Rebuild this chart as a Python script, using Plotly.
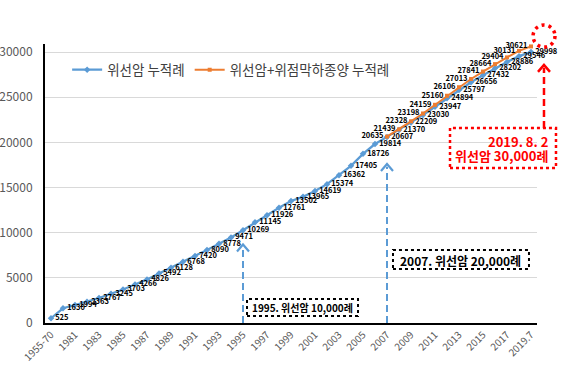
import plotly.graph_objects as go

categories = ["1955-70", "1971-80"] + [str(y) for y in range(1981, 2019)] + ["2019.7"]

gastric_cancer = [525, 1630, 1994, 2363, 2767, 3245, 3703, 4266, 4826, 5492, 6128,
                  6768, 7420, 8090, 8778, 9471, 10269, 11145, 11926, 12761, 13502,
                  13965, 14619, 15374, 16362, 17405, 18726, 19814, 20607, 21370,
                  22209, 23030, 23947, 24894, 25797, 26656, 27432, 28202, 28886,
                  29546, 29998]

gastric_plus_smt = [None] * 28 + [20635, 21439, 22328, 23198, 24159, 25160, 26106,
                                  27013, 27841, 28664, 29404, 30131, 30621]

name_blue = "위선암 누적례"
name_orange = "위선암+위점막하종양 누적례"

BLUE = "#5B9BD5"
ORANGE = "#ED7D31"
RED = "#FF0000"
FONT = "Noto Sans CJK KR"

fig = go.Figure()
fig.add_trace(go.Scatter(
    x=categories, y=gastric_cancer, name=name_blue,
    mode="lines+markers+text",
    line=dict(color=BLUE, width=2.25),
    marker=dict(symbol="diamond", size=5, color=BLUE),
    text=[str(v) for v in gastric_cancer],
    textposition="middle right",
    textfont=dict(size=7.5, color="#000000", family=FONT, weight="bold"),
    cliponaxis=False,
))
fig.add_trace(go.Scatter(
    x=categories, y=gastric_plus_smt, name=name_orange,
    mode="lines+markers+text",
    line=dict(color=ORANGE, width=2),
    marker=dict(symbol="square", size=4, color=ORANGE),
    text=[("" if v is None else str(v)) for v in gastric_plus_smt],
    textposition="middle left",
    textfont=dict(size=7.5, color="#000000", family=FONT, weight="bold"),
    cliponaxis=False,
))

i1995 = categories.index("1995")
i2007 = categories.index("2007")

CHEVRON = "M-6,-7 L0,0 L6,-7"

def chevron(xref, yref, x, y, color, width):
    return dict(type="path", xref=xref, yref=yref, xsizemode="pixel", ysizemode="pixel",
                xanchor=x, yanchor=y, path=CHEVRON,
                line=dict(color=color, width=width))

shapes = [
    # blue dashed arrows
    dict(type="line", xref="x", yref="y", x0=i1995, x1=i1995, y0=0, y1=8400,
         line=dict(color=BLUE, width=2, dash="7px,4px")),
    chevron("x", "y", i1995, 8700, BLUE, 2.2),
    dict(type="line", xref="x", yref="y", x0=i2007, x1=i2007, y0=0, y1=17300,
         line=dict(color=BLUE, width=2, dash="7px,4px")),
    chevron("x", "y", i2007, 17600, BLUE, 2.2),
    # dotted boxes
    dict(type="rect", xref="paper", yref="paper", x0=0.4106, x1=0.6362, y0=0.0251, y1=0.086,
         line=dict(color="#000000", width=2, dash="dot")),
    dict(type="rect", xref="paper", yref="paper", x0=0.7073, x1=0.9837, y0=0.1935, y1=0.2616,
         line=dict(color="#000000", width=2, dash="dot")),
    dict(type="rect", xref="paper", yref="paper", x0=0.8232, x1=1.0386, y0=0.5556, y1=0.6989,
         line=dict(color=RED, width=2.5, dash="dot")),
    # red dashed arrow
    dict(type="line", xref="paper", yref="paper", x0=1.0142, x1=1.0142, y0=0.6989, y1=0.915,
         line=dict(color=RED, width=2.5, dash="7px,4px")),
    chevron("paper", "paper", 1.0142, 0.925, RED, 2.5),
    # red dotted circle
    dict(type="circle", xref="paper", yref="paper", x0=0.992, x1=1.0366, y0=0.989, y1=1.068,
         line=dict(color=RED, width=3.5, dash="3px,4px")),
]

annotations = [
    dict(x=0.5234, y=0.0573, xref="paper", yref="paper", showarrow=False,
         xanchor="center", yanchor="middle",
         text="<b>1995. 위선암 10,000례</b>", font=dict(size=10, color="#000000", family=FONT)),
    dict(x=0.8455, y=0.2258, xref="paper", yref="paper", showarrow=False,
         xanchor="center", yanchor="middle",
         text="<b>2007. 위선암 20,000례</b>", font=dict(size=12, color="#000000", family=FONT)),
    dict(x=1.0264, y=0.6523, xref="paper", yref="paper", showarrow=False,
         xanchor="right", yanchor="middle",
         text="<b>2019. 8. 2</b>", font=dict(size=13, color=RED, family=FONT)),
    dict(x=1.0264, y=0.5986, xref="paper", yref="paper", showarrow=False,
         xanchor="right", yanchor="middle",
         text="<b>위선암 30,000례</b>", font=dict(size=13, color=RED, family=FONT)),
]

fig.update_layout(
    width=567, height=377,
    margin=dict(l=45, r=30, t=44, b=54, autoexpand=False),
    paper_bgcolor="white", plot_bgcolor="white",
    font=dict(family=FONT, color="#595959"),
    showlegend=True,
    legend=dict(orientation="h", x=0.045, y=0.907, xanchor="left", yanchor="middle",
                font=dict(size=13.5, color="#404040", family=FONT), itemwidth=30,
                bgcolor="rgba(0,0,0,0)"),
    shapes=shapes,
    annotations=annotations,
    xaxis=dict(type="category", categoryorder="array", categoryarray=categories,
               range=[-0.5, len(categories) - 0.5], automargin=False,
               tickvals=categories[::2], ticktext=categories[::2], tickangle=-45,
               tickfont=dict(size=10, color="#595959", family=FONT),
               showgrid=False, showline=True, linecolor="#000000", linewidth=2,
               ticks=""),
    yaxis=dict(range=[0, 30890], dtick=5000, tickformat="d", automargin=False,
               tickfont=dict(size=12, color="#595959", family=FONT),
               showgrid=True, gridcolor="#D9D9D9", gridwidth=1,
               showline=True, linecolor="#000000", linewidth=2,
               zeroline=False, ticks="", ticklabelstandoff=8),
)

# remove the browser's default 8px page margin so the figure fills the window
fig.write_html("out.html", config={"displayModeBar": False},
               post_script="document.body.style.margin='0px';")
